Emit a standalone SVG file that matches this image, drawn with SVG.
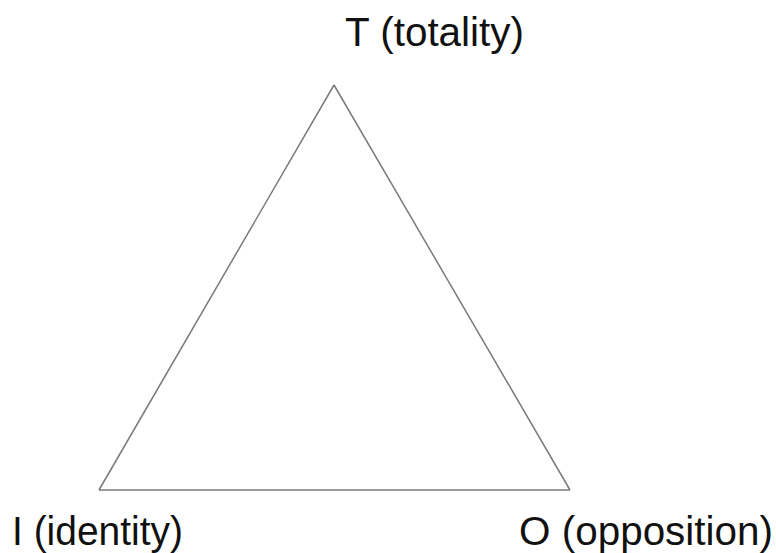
<svg xmlns="http://www.w3.org/2000/svg" width="776" height="553" viewBox="0 0 776 553">
<style>
.lbl{font-family:"Liberation Sans",Arial,sans-serif;font-size:40px;fill:#111}
.edge{stroke:#7a7a7a;stroke-width:1.5;fill:none}
</style>
<rect width="776" height="553" fill="#fff"/>
<g id="connectors">
<line class="edge" x1="334" y1="85" x2="99" y2="490"/>
<line class="edge" x1="334" y1="85" x2="570" y2="490"/>
<line class="edge" x1="99" y1="490" x2="570" y2="490"/>
</g>
<g id="node-T"><text class="lbl" x="345" y="46" textLength="179" lengthAdjust="spacingAndGlyphs">T (totality)</text></g>
<g id="node-I"><text class="lbl" x="12" y="545" textLength="171" lengthAdjust="spacingAndGlyphs">I (identity)</text></g>
<g id="node-O"><text class="lbl" x="519" y="545" textLength="254" lengthAdjust="spacingAndGlyphs">O (opposition)</text></g>
</svg>
